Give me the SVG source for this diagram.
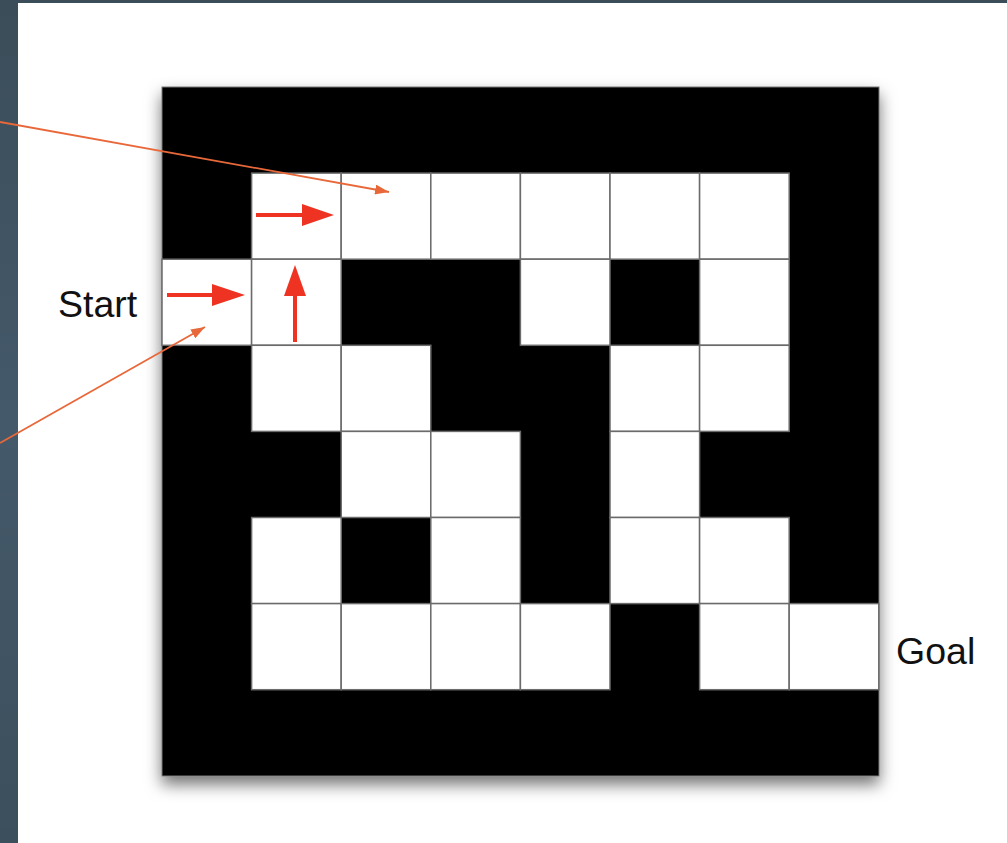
<svg xmlns="http://www.w3.org/2000/svg" width="1007" height="843" viewBox="0 0 1007 843">
<style>
.cell{fill:#ffffff;stroke:#6b6b6b;stroke-width:1.5}
.lbl{font-family:"Liberation Sans",Arial,sans-serif;font-size:37.5px;fill:#111}
.red{stroke:#ee3322;stroke-width:4;fill:none}
.redh{fill:#ee3322}
.ptr{stroke:#e8683a;stroke-width:1.8;fill:none}
</style>
<defs>
<filter id="sh" x="-10%" y="-10%" width="120%" height="125%">
<feDropShadow dx="0" dy="8" stdDeviation="8" flood-color="#000" flood-opacity="0.55"/>
</filter>
<marker id="oa" viewBox="0 0 14 10" refX="14" refY="5" markerWidth="14" markerHeight="10" markerUnits="userSpaceOnUse" orient="auto">
<path d="M0,0 L14,5 L0,10 Z" fill="#e8683a"/>
</marker>
<linearGradient id="bg" x1="0" y1="0" x2="0" y2="1">
<stop offset="0" stop-color="#3b4d59"/>
<stop offset="0.5" stop-color="#44596a"/>
<stop offset="1" stop-color="#3c4f5c"/>
</linearGradient>
</defs>
<rect x="0" y="0" width="1007" height="843" fill="url(#bg)"/>
<rect x="18" y="3" width="989" height="840" fill="#ffffff"/>
<g id="maze">
<rect x="162" y="87" width="717" height="689" fill="#000" stroke="#777" stroke-width="1" filter="url(#sh)"/>
<rect class="cell" x="251.6" y="173.1" width="89.6" height="86.1"/>
<rect class="cell" x="341.2" y="173.1" width="89.6" height="86.1"/>
<rect class="cell" x="430.8" y="173.1" width="89.6" height="86.1"/>
<rect class="cell" x="520.4" y="173.1" width="89.6" height="86.1"/>
<rect class="cell" x="610" y="173.1" width="89.6" height="86.1"/>
<rect class="cell" x="699.6" y="173.1" width="89.6" height="86.1"/>
<rect class="cell" x="162" y="259.2" width="89.6" height="86.1"/>
<rect class="cell" x="251.6" y="259.2" width="89.6" height="86.1"/>
<rect class="cell" x="520.4" y="259.2" width="89.6" height="86.1"/>
<rect class="cell" x="699.6" y="259.2" width="89.6" height="86.1"/>
<rect class="cell" x="251.6" y="345.3" width="89.6" height="86.1"/>
<rect class="cell" x="341.2" y="345.3" width="89.6" height="86.1"/>
<rect class="cell" x="610" y="345.3" width="89.6" height="86.1"/>
<rect class="cell" x="699.6" y="345.3" width="89.6" height="86.1"/>
<rect class="cell" x="341.2" y="431.4" width="89.6" height="86.1"/>
<rect class="cell" x="430.8" y="431.4" width="89.6" height="86.1"/>
<rect class="cell" x="610" y="431.4" width="89.6" height="86.1"/>
<rect class="cell" x="251.6" y="517.5" width="89.6" height="86.1"/>
<rect class="cell" x="430.8" y="517.5" width="89.6" height="86.1"/>
<rect class="cell" x="610" y="517.5" width="89.6" height="86.1"/>
<rect class="cell" x="699.6" y="517.5" width="89.6" height="86.1"/>
<rect class="cell" x="251.6" y="603.6" width="89.6" height="86.1"/>
<rect class="cell" x="341.2" y="603.6" width="89.6" height="86.1"/>
<rect class="cell" x="430.8" y="603.6" width="89.6" height="86.1"/>
<rect class="cell" x="520.4" y="603.6" width="89.6" height="86.1"/>
<rect class="cell" x="699.6" y="603.6" width="89.6" height="86.1"/>
<rect class="cell" x="789.2" y="603.6" width="89.6" height="86.1"/>
</g>
<g id="start-label"><text class="lbl" x="58" y="317">Start</text></g>
<g id="goal-label"><text class="lbl" x="896" y="664">Goal</text></g>
<g id="path-arrows">
<line class="red" x1="256" y1="215" x2="306" y2="215"/>
<path class="redh" d="M302,204 L334,215 L302,226 Z"/>
<line class="red" x1="167" y1="295" x2="216" y2="295"/>
<path class="redh" d="M212,284 L245,295 L212,306 Z"/>
<line class="red" x1="295" y1="342" x2="295" y2="292"/>
<path class="redh" d="M284,296 L295,265 L306,296 Z"/>
</g>
<g id="connectors">
<line class="ptr" x1="0" y1="122" x2="389" y2="192" marker-end="url(#oa)"/>
<line class="ptr" x1="0" y1="443" x2="205" y2="327" marker-end="url(#oa)"/>
</g>
</svg>
